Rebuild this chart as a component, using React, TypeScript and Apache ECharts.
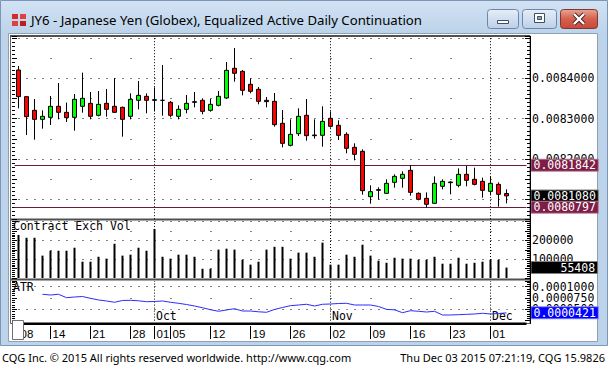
import React, { useEffect, useRef } from 'react';
import * as echarts from 'echarts';

const dates = [
  '2015-09-08', '2015-09-09', '2015-09-10', '2015-09-11',
  '2015-09-14', '2015-09-15', '2015-09-16', '2015-09-17', '2015-09-18',
  '2015-09-21', '2015-09-22', '2015-09-23', '2015-09-24', '2015-09-25',
  '2015-09-28', '2015-09-29', '2015-09-30', '2015-10-01', '2015-10-02',
  '2015-10-05', '2015-10-06', '2015-10-07', '2015-10-08', '2015-10-09',
  '2015-10-12', '2015-10-13', '2015-10-14', '2015-10-15', '2015-10-16',
  '2015-10-19', '2015-10-20', '2015-10-21', '2015-10-22', '2015-10-23',
  '2015-10-26', '2015-10-27', '2015-10-28', '2015-10-29', '2015-10-30',
  '2015-11-02', '2015-11-03', '2015-11-04', '2015-11-05', '2015-11-06',
  '2015-11-09', '2015-11-10', '2015-11-11', '2015-11-12', '2015-11-13',
  '2015-11-16', '2015-11-17', '2015-11-18', '2015-11-19', '2015-11-20',
  '2015-11-23', '2015-11-24', '2015-11-25', '2015-11-27',
  '2015-11-30', '2015-12-01', '2015-12-02', '2015-12-03',
];
const padCats = ['pad-1', 'pad-2'];

const opens = [
  0.0084211, 0.0083548, 0.0083208, 0.0082984, 0.0083034, 0.0083308, 0.0083158, 0.0083034, 0.0083308, 0.0083382,
  0.0083084, 0.0083382, 0.0083308, 0.0083283, 0.0083059, 0.0083457, 0.0083556, 0.0083473, 0.0083457, 0.0083407,
  0.0083059, 0.0083233, 0.0083407, 0.0083457, 0.0083208, 0.0083332, 0.0083515, 0.0084253, 0.0084178, 0.0083855,
  0.0083731, 0.0083457, 0.0083432, 0.0082885, 0.0082337, 0.0082628, 0.0083084, 0.0082595, 0.0082586, 0.0083009,
  0.0082835, 0.0082611, 0.0082288, 0.0082188, 0.0081060, 0.0081235, 0.0081143, 0.0081417, 0.0081517, 0.0081716,
  0.0081143, 0.0081019, 0.0080895, 0.0081318, 0.0081409, 0.0081342, 0.0081616, 0.0081492, 0.0081442, 0.0081193,
  0.0081367, 0.0081140,
];
const closes = [
  0.0083548, 0.0083051, 0.0082984, 0.0083059, 0.0083308, 0.0083158, 0.0083026, 0.0083482, 0.0083507, 0.0083059,
  0.0083357, 0.0083233, 0.0083158, 0.0082984, 0.0083482, 0.0083581, 0.0083457, 0.0083457, 0.0083457, 0.0083084,
  0.0083233, 0.0083382, 0.0083424, 0.0083183, 0.0083357, 0.0083556, 0.0084203, 0.0084129, 0.0083706, 0.0083681,
  0.0083432, 0.0083424, 0.0082852, 0.0082387, 0.0082611, 0.0083059, 0.0082578, 0.0082578, 0.0082934, 0.0082810,
  0.0082586, 0.0082263, 0.0082114, 0.0081210, 0.0081185, 0.0081218, 0.0081392, 0.0081566, 0.0081616, 0.0081168,
  0.0080994, 0.0080870, 0.0081392, 0.0081442, 0.0081425, 0.0081616, 0.0081467, 0.0081367, 0.0081218, 0.0081392,
  0.0081119, 0.0081080,
];
const lows = [
  0.0083258, 0.0082595, 0.0082478, 0.0082752, 0.0082843, 0.0082984, 0.0082918, 0.0082702, 0.0083150, 0.0082984,
  0.0083059, 0.0083051, 0.0083142, 0.0082553, 0.0082984, 0.0083233, 0.0083133, 0.0083183, 0.0083075, 0.0083034,
  0.0082984, 0.0083133, 0.0083283, 0.0083109, 0.0083175, 0.0083308, 0.0083490, 0.0083921, 0.0083581, 0.0083631,
  0.0083357, 0.0083283, 0.0082802, 0.0082288, 0.0082313, 0.0082570, 0.0082454, 0.0082503, 0.0082304, 0.0082777,
  0.0082470, 0.0082138, 0.0081964, 0.0081110, 0.0080886, 0.0080986, 0.0081135, 0.0081284, 0.0081284, 0.0081085,
  0.0080969, 0.0080797, 0.0080886, 0.0081243, 0.0081119, 0.0081293, 0.0081318, 0.0081342, 0.0081036, 0.0081094,
  0.0080812, 0.0080895,
];
const highs = [
  0.0084311, 0.0083565, 0.0083490, 0.0083208, 0.0083565, 0.0083888, 0.0083399, 0.0083614, 0.0084145, 0.0083664,
  0.0083689, 0.0083739, 0.0084012, 0.0083300, 0.0083631, 0.0083938, 0.0083631, 0.0083780, 0.0084336, 0.0083440,
  0.0083332, 0.0083590, 0.0083664, 0.0083507, 0.0083490, 0.0083689, 0.0084410, 0.0084759, 0.0084211, 0.0084004,
  0.0083789, 0.0083540, 0.0083639, 0.0083216, 0.0082984, 0.0083258, 0.0083490, 0.0082984, 0.0083308, 0.0083183,
  0.0082959, 0.0082661, 0.0082387, 0.0082238, 0.0081342, 0.0081293, 0.0081492, 0.0081616, 0.0081691, 0.0081842,
  0.0081168, 0.0081168, 0.0081566, 0.0081492, 0.0081442, 0.0081765, 0.0081823, 0.0081782, 0.0081533, 0.0081566,
  0.0081417, 0.0081243,
];
const volumes = [
  229000, 214000, 214000, 119000, 145000, 145000, 145000, 161000, 87000, 87000,
  113000, 103000, 182000, 119000, 124000, 161000, 145000, 261000, 113000, 103000,
  124000, 124000, 113000, 49000, 49000, 151000, 156000, 151000, 97000, 71000, 87000,
  151000, 166000, 166000, 103000, 135000, 135000, 113000, 188000, 71000, 71000,
  124000, 113000, 177000, 119000, 92000, 81000, 108000, 103000, 103000, 97000,
  97000, 113000, 76000, 76000, 108000, 76000, 81000, 87000, 97000, 97000, 55408,
];
const atr = [
  null, null, null, 0.0000832, 0.0000816, 0.0000832, 0.0000757, 0.0000772, 0.0000783, 0.0000743,
  0.0000706, 0.0000684, 0.0000655, 0.0000695, 0.0000699, 0.0000688, 0.0000668, 0.0000673, 0.0000684, 0.0000655,
  0.0000633, 0.0000606, 0.0000573, 0.0000535, 0.0000491, 0.0000456, 0.0000485, 0.0000513, 0.0000462, 0.0000462,
  0.0000445, 0.0000434, 0.0000496, 0.0000540, 0.0000580, 0.0000595, 0.0000611, 0.0000573, 0.0000611, 0.0000617,
  0.0000628, 0.0000633, 0.0000595, 0.0000595, 0.0000595, 0.0000562, 0.0000499, 0.0000488, 0.0000425, 0.0000469,
  0.0000456, 0.0000440, 0.0000456, 0.0000374, 0.0000374, 0.0000381, 0.0000389, 0.0000396, 0.0000412, 0.0000396,
  0.0000407, 0.0000421,
];

const dayTicks = [
  '2015-09-08', '2015-09-14', '2015-09-21', '2015-09-28', '2015-10-01', '2015-10-05', '2015-10-12',
  '2015-10-19', '2015-10-26', '2015-11-02', '2015-11-09', '2015-11-16', '2015-11-23', '2015-12-01',
];
const monthTicks = ['2015-10-01', '2015-11-02', '2015-12-01'];
const monthNames = ['Oct', 'Nov', 'Dec'];

const priceLabels = [0.0082, 0.0083, 0.0084];
const priceMajorRows = [0.0081, 0.0082, 0.0083, 0.0084, 0.0085];
const priceMinorRows = [0.00815, 0.00825, 0.00835, 0.00845];
const rangeHigh = 0.0081842;
const rangeLow = 0.0080797;
const lastPrice = 0.008108;

const volLabels = [100000, 200000];
const volMajorRows = [100000, 200000, 300000];
const volMinorRows = [50000, 150000, 250000];
const lastVolume = 55408;

const atrLabels = [0.0001, 0.000075, 0.00005];
const atrMajorRows = [0.0001, 0.00005];
const atrMinorRows = [0.000075];
const lastAtr = 0.0000421;

const titleText = 'JY6 - Japanese Yen (Globex), Equalized Active Daily Continuation';
const footerLeft = 'CQG Inc. \u00A9 2015 All rights reserved worldwide. http://www.cqg.com';
const footerRight = 'Thu Dec 03 2015 07:21:19, CQG 15.9826';

const MONO = 'DejaVu Sans Mono';

export default function App() {
  const ref = useRef<HTMLDivElement>(null);

  useEffect(() => {
    const chart = echarts.init(ref.current!, undefined, { renderer: 'svg' });
    const cats = [...dates, ...padCats];
    const daySet = new Set(dayTicks);
    const near = (v: number, list: number[], eps: number) => list.some((x) => Math.abs(x - v) < eps);

    const rowLine = (v: number, major: boolean) => ({
      yAxis: v,
      lineStyle: { type: major ? [1, 7] : [1, 39], dashOffset: 4, color: '#000', width: 1 },
      label: { show: false },
    });
    const vLines = monthTicks.map((d) => ({
      xAxis: cats.indexOf(d),
      lineStyle: { type: [1, 2], color: '#000', width: 1 },
      label: { show: false },
    }));
    const boxLine = (v: number, text: string, bg: string, border: string, lineColor: string | null, padLeft = 2) => ({
      yAxis: v,
      lineStyle: lineColor
        ? { type: 'solid', color: lineColor, width: 1, opacity: 1 }
        : { type: 'solid', color: 'rgba(0,0,0,0)', width: 0, opacity: 1 },
      label: {
        show: true,
        position: 'end',
        distance: 5,
        formatter: () => text,
        color: '#fff',
        opacity: 1,
        backgroundColor: bg,
        borderColor: border,
        borderWidth: 1,
        padding: [1, 2, 0, padLeft],
        fontFamily: MONO,
        fontSize: 11.5,
        lineHeight: 10,
      },
    });

    const tickAxis = (gridIndex: number, position: string, min: number, max: number, interval: number, fmt?: (v: number) => string) => ({
      type: 'value',
      gridIndex,
      position,
      offset: position === 'right' ? 3.5 : 2.5,
      min,
      max,
      interval,
      axisLine: { show: false },
      axisTick: { show: true, inside: true, length: 5, lineStyle: { color: '#000' } },
      minorTick: { show: true, splitNumber: 5, length: 3, lineStyle: { color: '#000' } },
      splitLine: { show: false },
      minorSplitLine: { show: false },
      axisLabel: fmt
        ? { show: true, formatter: fmt, margin: 2, fontFamily: MONO, fontSize: 11.5, lineHeight: 9, color: '#000' }
        : { show: false },
    });

    const priceFmt = (v: number) => (near(v, priceLabels, 1e-9) ? v.toFixed(7) : '');
    const volFmt = (v: number) => (near(v, volLabels, 1) ? String(v) : '');
    const atrFmt = (v: number) => (near(v, atrLabels, 1e-10) ? v.toFixed(7) : '');

    const mark = (data: any[]) => ({ silent: true, symbol: ['none', 'none'], z: 1, precision: 10, data });

    const option: any = {
      animation: false,
      backgroundColor: '#fff',
      grid: [
        { left: 14.5, width: 512, top: 36, height: 183.2 },
        { left: 14.5, width: 512, top: 221, height: 57 },
        { left: 14.5, width: 512, top: 281, height: 39.6 },
      ],
      xAxis: [
        { type: 'category', gridIndex: 0, data: cats, boundaryGap: true, show: false },
        { type: 'category', gridIndex: 1, data: cats, boundaryGap: true, show: false },
        {
          type: 'category', gridIndex: 2, data: cats, boundaryGap: true, position: 'bottom', offset: 5.4,
          axisLine: { show: false },
          axisTick: {
            show: true, alignWithLabel: true, length: 13,
            interval: (i: number) => daySet.has(cats[i]),
            lineStyle: { color: '#000', width: 1 },
          },
          axisLabel: {
            interval: (i: number) => daySet.has(cats[i]),
            formatter: (v: string) => v.slice(8, 10),
            align: 'left', margin: 2, padding: [0, 0, 0, 2],
            fontFamily: 'Liberation Sans', fontSize: 11.5, color: '#000',
          },
          splitLine: { show: false },
        },
        {
          type: 'category', gridIndex: 2, data: cats, boundaryGap: true, position: 'bottom', z: 3,
          axisLine: { show: false },
          axisTick: { show: false },
          axisLabel: {
            inside: true, margin: -1.2, align: 'left',
            interval: (i: number) => monthTicks.includes(cats[i]),
            formatter: (v: string) => '{s|}{t|' + monthNames[monthTicks.indexOf(v)] + '}',
            rich: {
              s: { width: 1.5 },
              t: { backgroundColor: '#fff', fontFamily: MONO, fontSize: 11.5, color: '#000', padding: [0, 1, 0, 0] },
            },
          },
          splitLine: { show: false },
        },
      ],
      yAxis: [
        tickAxis(0, 'right', 0.00805, 0.0085057, 0.00005, priceFmt),
        tickAxis(0, 'left', 0.00805, 0.0085057, 0.00005),
        tickAxis(1, 'right', 0, 303191, 50000, volFmt),
        tickAxis(1, 'left', 0, 303191, 50000),
        tickAxis(2, 'right', 0.000025, 0.0001126, 0.000025, atrFmt),
        tickAxis(2, 'left', 0.000025, 0.0001126, 0.000025),
      ],
      series: [
        {
          type: 'candlestick',
          xAxisIndex: 0,
          yAxisIndex: 0,
          barWidth: 5,
          data: dates.map((_, i) => [opens[i], closes[i], lows[i], highs[i]]),
          itemStyle: {
            color: '#00ff00', color0: '#ff0000',
            borderColor: '#000', borderColor0: '#000', borderColorDoji: '#000', borderWidth: 1,
          },
          markLine: mark([
            ...priceMajorRows.map((v) => rowLine(v, true)),
            ...priceMinorRows.map((v) => rowLine(v, false)),
            ...vLines,
            boxLine(lastPrice, lastPrice.toFixed(7), '#000', '#808080', null),
            boxLine(rangeHigh, rangeHigh.toFixed(7), '#7c1e46', '#b87896', '#6e1a3a'),
            boxLine(rangeLow, rangeLow.toFixed(7), '#7c1e46', '#b87896', '#6e1a3a'),
          ]),
        },
        {
          type: 'bar',
          xAxisIndex: 1,
          yAxisIndex: 2,
          barWidth: 2,
          data: volumes,
          itemStyle: { color: '#000' },
          markLine: mark([
            ...volMajorRows.map((v) => rowLine(v, true)),
            ...volMinorRows.map((v) => rowLine(v, false)),
            ...vLines,
            boxLine(lastVolume, String(lastVolume), '#000', '#808080', null, 29),
          ]),
        },
        {
          type: 'line',
          xAxisIndex: 2,
          yAxisIndex: 4,
          data: atr,
          symbol: 'none',
          lineStyle: { color: '#2b2bff', width: 1 },
          markLine: mark([
            ...atrMajorRows.map((v) => rowLine(v, true)),
            ...atrMinorRows.map((v) => rowLine(v, false)),
            ...vLines,
            boxLine(lastAtr, lastAtr.toFixed(7), '#0000ff', '#8080ff', null),
          ]),
        },
      ],
      graphic: [
        { type: 'rect', z: -10, shape: { x: 0.5, y: 0.5, width: 607, height: 345 }, style: { fill: '#bcd3ea', stroke: '#7a96b8', lineWidth: 1 } },
        {
          type: 'rect', z: -9, shape: { x: 1, y: 1, width: 606, height: 32 },
          style: { fill: new echarts.graphic.LinearGradient(0, 0, 0, 1, [{ offset: 0, color: '#d2e2f3' }, { offset: 1, color: '#bcd3ea' }]) },
        },
        { type: 'rect', z: -8, shape: { x: 8.5, y: 33.5, width: 589, height: 308 }, style: { fill: '#fff', stroke: '#8f9fb4', lineWidth: 1 } },
        { type: 'rect', z: -7, shape: { x: 12, y: 14, width: 6, height: 5 }, style: { fill: '#d42a2a' } },
        { type: 'rect', z: -7, shape: { x: 20, y: 14, width: 6, height: 5 }, style: { fill: '#e04040' } },
        { type: 'rect', z: -7, shape: { x: 12, y: 21, width: 6, height: 5 }, style: { fill: '#e04040' } },
        { type: 'rect', z: -7, shape: { x: 20, y: 21, width: 6, height: 5 }, style: { fill: '#c01c1c' } },
        { type: 'text', z: -7, x: 31, y: 20, style: { text: titleText, fill: '#000', font: '13.2px "Noto Sans"', textVerticalAlign: 'middle' } },
        {
          type: 'rect', z: -7, shape: { x: 487.5, y: 9.5, width: 31, height: 19, r: 3 },
          style: { fill: new echarts.graphic.LinearGradient(0, 0, 0, 1, [{ offset: 0, color: '#e6eef8' }, { offset: 1, color: '#bccfe7' }]), stroke: '#6c86ac' },
        },
        { type: 'rect', z: -6, shape: { x: 497.5, y: 20.5, width: 11, height: 3 }, style: { fill: '#fff', stroke: '#3d4f66' } },
        {
          type: 'rect', z: -7, shape: { x: 522.5, y: 9.5, width: 34, height: 19, r: 3 },
          style: { fill: new echarts.graphic.LinearGradient(0, 0, 0, 1, [{ offset: 0, color: '#e6eef8' }, { offset: 1, color: '#bccfe7' }]), stroke: '#6c86ac' },
        },
        { type: 'rect', z: -6, shape: { x: 534.5, y: 13.5, width: 10, height: 9 }, style: { fill: '#fff', stroke: '#3d4f66', lineWidth: 1 } },
        { type: 'rect', z: -6, shape: { x: 537.5, y: 16.5, width: 4, height: 3 }, style: { fill: '#8fa6c4', stroke: '#3d4f66', lineWidth: 1 } },
        {
          type: 'rect', z: -7, shape: { x: 560.5, y: 9.5, width: 37, height: 19, r: 3 },
          style: { fill: new echarts.graphic.LinearGradient(0, 0, 0, 1, [{ offset: 0, color: '#e8a494' }, { offset: 0.5, color: '#d5604c' }, { offset: 1, color: '#c9483a' }]), stroke: '#7a3a34' },
        },
        { type: 'line', z: -6, shape: { x1: 574, y1: 14, x2: 584, y2: 24 }, style: { stroke: '#3a1f1f', lineWidth: 4 } },
        { type: 'line', z: -6, shape: { x1: 584, y1: 14, x2: 574, y2: 24 }, style: { stroke: '#3a1f1f', lineWidth: 4 } },
        { type: 'line', z: -5, shape: { x1: 574, y1: 14, x2: 584, y2: 24 }, style: { stroke: '#fff', lineWidth: 2.4 } },
        { type: 'line', z: -5, shape: { x1: 584, y1: 14, x2: 574, y2: 24 }, style: { stroke: '#fff', lineWidth: 2.4 } },
        { type: 'rect', z: -4, shape: { x: 10.5, y: 35.5, width: 519.5, height: 288 }, style: { fill: 'none', stroke: '#606060', lineWidth: 1 } },
        { type: 'line', z: -4, shape: { x1: 10, y1: 36, x2: 530, y2: 36 }, style: { stroke: '#505050', lineWidth: 2 } },
        { type: 'line', z: -4, shape: { x1: 11, y1: 219.5, x2: 530, y2: 219.5 }, style: { stroke: '#505050', lineWidth: 2 } },
        { type: 'line', z: -4, shape: { x1: 11, y1: 279.5, x2: 530, y2: 279.5 }, style: { stroke: '#505050', lineWidth: 2 } },
        { type: 'line', z: 6, shape: { x1: 530.5, y1: 36, x2: 530.5, y2: 324 }, style: { stroke: '#000', lineWidth: 1 } },
        { type: 'rect', z: 6, shape: { x: 24, y: 322.5, width: 502.5, height: 2.5 }, style: { fill: '#000' } },
        { type: 'rect', z: 10, shape: { x: 12.5, y: 320.5, width: 11, height: 19 }, style: { fill: '#fff', stroke: '#707070', lineWidth: 1 } },
        { type: 'text', z: 6, x: 13, y: 226, style: { text: 'Contract Exch Vol', fill: '#000', font: '11.5px "DejaVu Sans Mono"', textVerticalAlign: 'middle' } },
        { type: 'text', z: 6, x: 13, y: 287, style: { text: 'ATR', fill: '#000', font: '11.5px "DejaVu Sans Mono"', textVerticalAlign: 'middle' } },
        { type: 'text', z: 6, x: 2, y: 357, style: { text: footerLeft, fill: '#000', font: '11px "Noto Sans"', textVerticalAlign: 'middle' } },
        { type: 'text', z: 6, x: 605, y: 357, style: { text: footerRight, fill: '#000', font: '11px "Noto Sans"', textAlign: 'right', textVerticalAlign: 'middle' } },
      ],
    };

    chart.setOption(option);
    return () => chart.dispose();
  }, []);

  return <div ref={ref} style={{ position: 'fixed', left: 0, top: 0, width: 608, height: 368 }} />;
}
